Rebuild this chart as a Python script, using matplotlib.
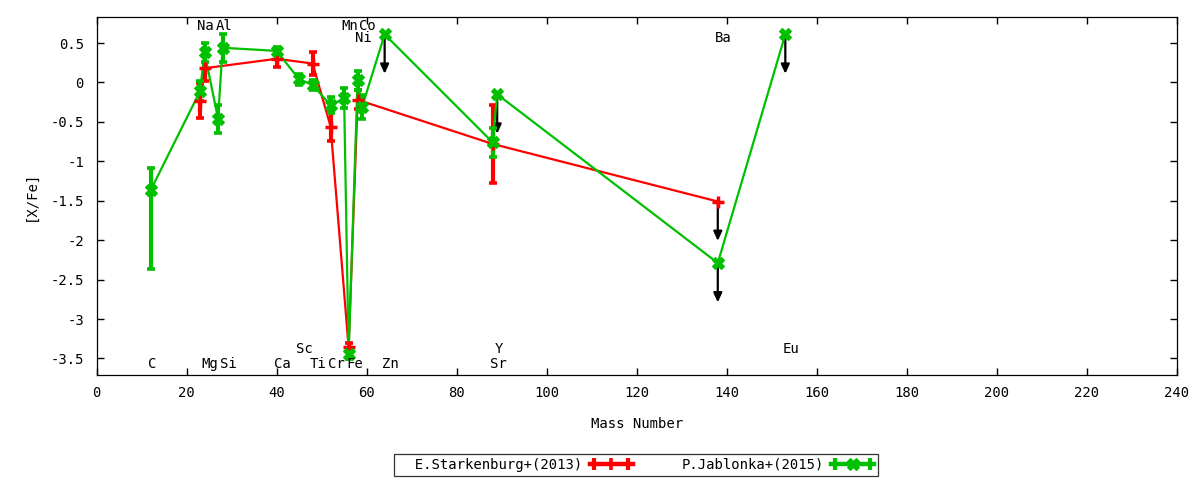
import numpy as np
import matplotlib

matplotlib.use("Agg")
import matplotlib.pyplot as plt
from matplotlib.lines import Line2D
from matplotlib.legend_handler import HandlerLine2D

plt.rcParams["font.family"] = ["DejaVu Sans Mono"]
plt.rcParams["font.size"] = 10
plt.rcParams["axes.unicode_minus"] = False

# E.Starkenburg+(2013)
sta_mass = [23, 24, 40, 48, 52, 56, 58, 88, 138]
sta_val = [-0.23, 0.18, 0.30, 0.24, -0.56, -3.36, -0.22, -0.78, -1.51]
sta_err = [0.22, 0.16, 0.10, 0.15, 0.18, 0.05, 0.12, 0.50, 0.0]
sta_limit = [False, False, False, False, False, False, False, False, True]

# P.Jablonka+(2015)
jab_mass = [12, 23, 24, 27, 28, 40, 45, 48, 52, 55, 56, 58, 59, 64, 88, 89, 138, 153]
jab_val = [-1.37, -0.11, 0.38, -0.46, 0.44, 0.40, 0.04, -0.03, -0.29, -0.20,
           -3.44, 0.03, -0.31, 0.61, -0.76, -0.15, -2.29, 0.61]
jab_err_lo = [1.00, 0.13, 0.12, 0.18, 0.18, 0.05, 0.07, 0.06, 0.10, 0.13,
              0.07, 0.12, 0.15, 0.0, 0.18, 0.0, 0.0, 0.0]
jab_err_hi = [0.29, 0.13, 0.12, 0.18, 0.18, 0.05, 0.07, 0.06, 0.10, 0.13,
              0.07, 0.12, 0.15, 0.0, 0.18, 0.0, 0.0, 0.0]
jab_limit = [False] * 13 + [True, False, True, True, True]

# element labels
el_names = ["C", "Na", "Mg", "Al", "Si", "Ca", "Sc", "Ti", "Cr", "Mn", "Fe",
            "Co", "Ni", "Zn", "Sr", "Y", "Ba", "Eu"]
el_mass = [12, 23, 24, 27, 28, 40, 45, 48, 52, 55, 56, 59, 58, 64, 88, 89, 138, 153]
el_level = [-3.57, 0.71, -3.57, 0.71, -3.57, -3.57, -3.38, -3.57, -3.57, 0.71,
            -3.57, 0.71, 0.57, -3.57, -3.57, -3.38, 0.57, -3.38]

RED = "#ff0000"
GREEN = "#00c000"
ARROW_LEN = 0.5


def draw_series(ax, mass, val, lo, hi, limit, color, marker, ms):
    mass = np.asarray(mass, float)
    val = np.asarray(val, float)
    lo = np.asarray(lo, float)
    hi = np.asarray(hi, float)
    limit = np.asarray(limit)
    ax.plot(mass, val, color=color, lw=1.6, zorder=3)
    m = ~limit
    ax.errorbar(mass[m], val[m], yerr=[lo[m], hi[m]], fmt="none", ecolor=color,
                elinewidth=3.0, capsize=3.2, capthick=2.6, zorder=3)
    ax.plot(mass, val, ls="none", marker=marker, ms=ms, color=color,
            mec=color, mew=2.5 if marker == "+" else 0.8, zorder=4)
    for x, y in zip(mass[limit], val[limit]):
        ax.annotate("", xy=(x, y - ARROW_LEN), xytext=(x, y),
                    arrowprops=dict(arrowstyle="-|>,head_length=0.55,head_width=0.25",
                                    color="black", lw=1.6, shrinkA=0, shrinkB=0),
                    zorder=2)


fig = plt.figure(figsize=(12, 4.8), dpi=100)
ax = fig.add_axes([96.5 / 1200, 105 / 480, (1177 - 96.5) / 1200, (375 - 17) / 480])

draw_series(ax, sta_mass, sta_val, sta_err, sta_err, sta_limit, RED, "+", 8)
draw_series(ax, jab_mass, jab_val, jab_err_lo, jab_err_hi, jab_limit, GREEN, "X", 8.5)

for name, x, y in zip(el_names, el_mass, el_level):
    ax.text(x - 0.6, y, name, ha="left", va="center", zorder=5)

ax.set_xlim(0, 240)
ax.set_ylim(-3.71, 0.83)
ax.set_xticks(np.arange(0, 241, 20))
ax.set_yticks(np.arange(-3.5, 0.51, 0.5))
ax.yaxis.set_major_formatter(matplotlib.ticker.FormatStrFormatter("%g"))
ax.tick_params(direction="in", length=5, width=1, top=True, right=True)
ax.tick_params(axis="x", pad=8)
ax.tick_params(axis="y", pad=9)
for s in ax.spines.values():
    s.set_linewidth(0.9)
ax.set_xlabel("Mass Number", labelpad=12)
ax.set_ylabel("[X/Fe]", labelpad=9)

# legend samples: thick line, marker in the middle, caps at the ends
red_line = Line2D([], [], color=RED, lw=3.2, marker="+", ms=8, mew=2.6)
red_caps = Line2D([], [], color=RED, ls="none", marker="|", ms=8, mew=3)
grn_line = Line2D([], [], color=GREEN, lw=3.2, marker="X", ms=8.5, mew=0.8)
grn_caps = Line2D([], [], color=GREEN, ls="none", marker="|", ms=8, mew=3)
hmap = {red_line: HandlerLine2D(numpoints=1), grn_line: HandlerLine2D(numpoints=1),
        red_caps: HandlerLine2D(numpoints=2), grn_caps: HandlerLine2D(numpoints=2)}
leg = fig.legend([(red_line, red_caps), (grn_line, grn_caps)],
                 ["  E.Starkenburg+(2013)", "P.Jablonka+(2015)"],
                 handler_map=hmap, ncol=2, markerfirst=False, loc="center",
                 bbox_to_anchor=(636 / 1200, 15 / 480), frameon=True,
                 fancybox=False, edgecolor="black", handlelength=3.1,
                 columnspacing=3.5, handletextpad=0.55, borderpad=0.3,
                 borderaxespad=0)
leg.get_frame().set_linewidth(0.9)

fig.savefig("out.png", dpi=100)
